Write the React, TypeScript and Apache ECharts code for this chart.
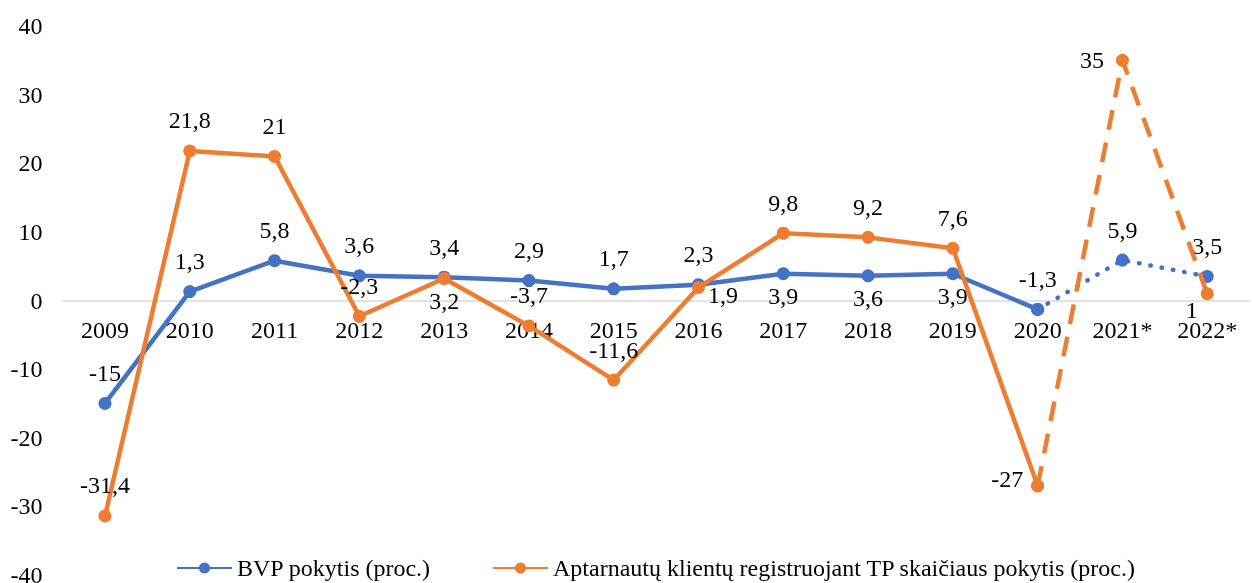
import React, { useEffect, useRef } from "react";
import * as echarts from "echarts";

const categories = ["2009", "2010", "2011", "2012", "2013", "2014", "2015", "2016", "2017", "2018", "2019", "2020", "2021*", "2022*"];
const bvp = [-15, 1.3, 5.8, 3.6, 3.4, 2.9, 1.7, 2.3, 3.9, 3.6, 3.9, -1.3, 5.9, 3.5];
const clients = [-31.4, 21.8, 21, -2.3, 3.2, -3.7, -11.6, 1.9, 9.8, 9.2, 7.6, -27, 35, 1];
const yTicks = { min: -40, max: 40, interval: 10 };
const bvpName = "BVP pokytis (proc.)";
const clientsName = "Aptarnautų klientų registruojant TP skaičiaus pokytis (proc.)";
const forecastStart = 11; // index of 2020, the last actual year

const bvpLabelPos = ["top", "top", "top", "top", "top", "top", "top", "top", "bottom", "bottom", "bottom", "top", "top", "top"];
const clientsLabelPos = ["top", "top", "top", "top", "bottom", "top", "top", "rightLow", "top", "top", "top", "leftHigh", "left", "leftBottom"];

const BLUE = "#4472C4";
const ORANGE = "#ED7D31";
const FONT = "'Liberation Serif', 'Times New Roman', serif";
const FS = 24;

const W = 1252;
const H = 583;
const GRID = { left: 62.6, right: 2.4, top: 26, height: 549 };

const fmt = (v: number) => String(v).replace(".", ",");

function labelFor(p: string) {
  switch (p) {
    case "leftBottom":
      return { position: "left", distance: 6, offset: [3, 16] };
    case "leftHigh":
      return { position: "left", distance: 8, offset: [0, -7] };
    case "rightLow":
      return { position: "right", distance: 3, offset: [0, 8] };
    case "bottom":
      return { position: "bottom", distance: 4 };
    default:
      return { position: p };
  }
}

function buildData(values: number[], positions: string[], from: number, to: number, labelFrom: number) {
  return values.map((v, i) => {
    if (i < from || i > to) return null;
    return { value: v, label: { show: i >= labelFrom, ...labelFor(positions[i]) } };
  });
}

export default function App() {
  const ref = useRef<HTMLDivElement>(null);
  useEffect(() => {
    if (!ref.current) return;
    const chart = echarts.init(ref.current, null, { renderer: "svg" });
    const labelBase = {
      show: true,
      fontFamily: FONT,
      fontSize: FS,
      color: "#000",
      distance: 12,
      formatter: (p: any) => fmt(p.value),
    };
    const n = categories.length;
    chart.setOption({
      animation: false,
      textStyle: { fontFamily: FONT },
      grid: { ...GRID, containLabel: false, outerBoundsMode: "none" },
      legend: {
        data: [bvpName, clientsName],
        left: 176,
        top: 556,
        padding: 0,
        itemWidth: 55,
        itemHeight: 14,
        itemGap: 61,
        textStyle: { fontFamily: FONT, fontSize: FS, color: "#000" },
      },
      xAxis: {
        type: "category",
        data: categories,
        boundaryGap: true,
        position: "bottom",
        offset: 0,
        axisLine: { onZero: false, lineStyle: { color: "#d9d9d9", width: 1.5 } },
        axisTick: { show: false },
        axisLabel: { fontFamily: FONT, fontSize: FS, color: "#000", margin: 17, interval: 0 },
      },
      yAxis: {
        type: "value",
        min: yTicks.min,
        max: yTicks.max,
        interval: yTicks.interval,
        splitLine: { show: false },
        axisLine: { show: false },
        axisTick: { show: false },
        axisLabel: { fontFamily: FONT, fontSize: FS, color: "#000", margin: 20 },
      },
      series: [
        {
          name: bvpName,
          type: "line",
          data: buildData(bvp, bvpLabelPos, 0, forecastStart, 0),
          symbol: "circle",
          symbolSize: 13,
          itemStyle: { color: BLUE },
          lineStyle: { color: BLUE, width: 4.5 },
          label: labelBase,
          z: 2,
        },
        {
          name: bvpName + " (prognozė)",
          type: "line",
          data: buildData(bvp, bvpLabelPos, forecastStart, n - 1, forecastStart + 1),
          symbol: "circle",
          symbolSize: 13,
          itemStyle: { color: BLUE },
          lineStyle: { color: BLUE, width: 4.5, type: [0.5, 11], cap: "round" },
          label: labelBase,
          z: 2,
        },
        {
          name: clientsName,
          type: "line",
          data: buildData(clients, clientsLabelPos, 0, forecastStart, 0),
          symbol: "circle",
          symbolSize: 13,
          itemStyle: { color: ORANGE },
          lineStyle: { color: ORANGE, width: 4.5 },
          label: labelBase,
          z: 3,
        },
        {
          name: clientsName + " (prognozė)",
          type: "line",
          data: buildData(clients, clientsLabelPos, forecastStart, n - 1, forecastStart + 1),
          symbol: "circle",
          symbolSize: 13,
          itemStyle: { color: ORANGE },
          lineStyle: { color: ORANGE, width: 4.5, type: [20, 13] },
          label: labelBase,
          z: 3,
        },
      ],
    });
    // move the category axis (line and labels) up to the value-axis zero
    const zeroPx = chart.convertToPixel({ yAxisIndex: 0 }, 0) as number;
    const bottomPx = chart.convertToPixel({ yAxisIndex: 0 }, yTicks.min) as number;
    chart.setOption({ xAxis: { offset: zeroPx - bottomPx } });
    return () => chart.dispose();
  }, []);
  return <div ref={ref} style={{ position: "fixed", left: 0, top: 0, width: W, height: H }} />;
}
